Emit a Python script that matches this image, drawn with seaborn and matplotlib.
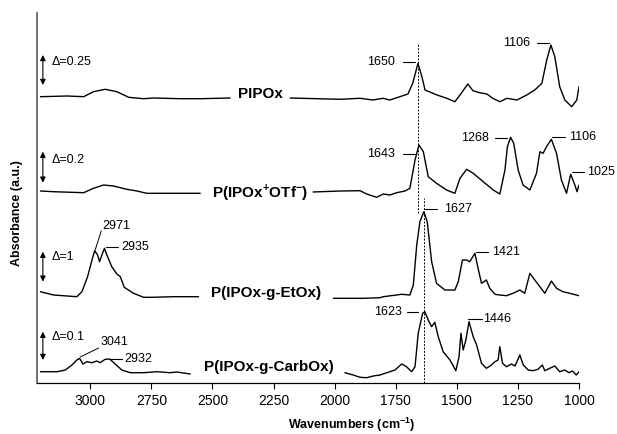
import matplotlib
matplotlib.use('Agg')
import matplotlib.pyplot as plt
import seaborn as sns
import pandas as pd

# FTIR spectra: wavenumber (cm-1) and absorbance (a.u.,
# relative to each trace's own baseline). Each trace is drawn in two pieces.
pipox_hi_wn = [3204, 3095, 3027, 2987, 2939, 2891, 2843, 2782, 2742, 2632, 2550, 2428]
pipox_hi_abs = [1.3, 2, 1.3, 6.3, 8.7, 6.3, 0.7, -0.7, 0, -0.7, -0.7, 0]
pipox_lo_wn = [2182, 1978, 1896, 1843, 1802, 1774, 1733, 1700, 1680, 1659, 1643, 1630,
               1581, 1541, 1508, 1487, 1455, 1434, 1406, 1377, 1353, 1324, 1295, 1254,
               1214, 1181, 1152, 1132, 1115, 1099, 1079, 1058, 1030, 1009, 1000]
pipox_lo_abs = [0, -1.3, -0.3, -2, -0.3, -2, 1.3, 4, 15, 34.7, 21.3, 8,
                3, -0.3, -3.7, 3, 14, 7.3, 5.3, 4, -0.3, -3.7, -0.3, -2,
                3, 8, 14.7, 38, 53, 41.3, 11.3, -2, -8.7, -2, 11.3]

otf_hi_wn = [3204, 3151, 3027, 2987, 2946, 2905, 2850, 2809, 2769, 2659, 2550]
otf_hi_abs = [1, 0.3, -0.7, 3.7, 7, 6, 2.7, 1, -1.3, -1.3, -1.3]
otf_lo_wn = [2088, 1978, 1896, 1869, 1828, 1801, 1774, 1746, 1712, 1692,
             1671, 1655, 1637, 1617, 1583, 1542, 1508, 1487, 1460, 1433,
             1392, 1351, 1324, 1303, 1293, 1280, 1267, 1249, 1229, 1201,
             1174, 1160, 1147, 1133, 1113, 1092, 1072, 1051, 1034, 1017, 1008, 1000]
otf_lo_abs = [0, 1, 1.3, -2, -5.3, -2, -3, -0.7, 1, 3.7,
              32, 47, 40.3, 15.3, 8.7, 2, -1.3, 13.7, 22.7, 18.7,
              10.3, 2, -2, 22, 45.3, 54.7, 48.7, 22, 7, 2,
              18.7, 40.3, 38.7, 45.3, 52.7, 38.7, 12, -1.3, 17.7, 7, 0.3, 7]

etox_hi_wn = [3204, 3150, 3055, 3034, 3011, 2993, 2982, 2970, 2962, 2951, 2942,
              2932, 2912, 2891, 2877, 2861, 2823, 2782, 2748, 2660, 2557]
etox_hi_abs = [4.3, 1, -0.7, 4.3, 19.3, 36, 45.3, 41, 34.3, 42, 47.7,
               41, 29.3, 22, 19.3, 8.7, 2.7, -1.3, -1.3, -0.7, -0.7]
etox_lo_wn = [2005, 1883, 1814, 1801, 1746, 1726, 1692, 1678, 1664, 1651,
              1635, 1621, 1603, 1583, 1549, 1508, 1494, 1477, 1460, 1447,
              1426, 1413, 1399, 1379, 1365, 1344, 1324, 1297, 1270, 1242,
              1222, 1201, 1181, 1160, 1140, 1113, 1092, 1066, 1038, 1000]
etox_lo_abs = [-2.3, -2.3, -1.7, -0.7, 1, 1.7, 1, 11, 51, 74.3,
               84.3, 74.3, 34.3, 12.7, 6, 6, 14.3, 36, 36, 34.3,
               42.7, 27.7, 12.7, 16, 7.7, 1.7, 1, 0.3, 2.7, 6,
               2.7, 22.7, 16, 9.3, 2.7, 15, 7.7, 4.3, 2.7, 0.3]

carb_hi_wn = [3204, 3136, 3102, 3075, 3055, 3044, 3030, 3014, 2993, 2973, 2960,
              2939, 2921, 2898, 2871, 2836, 2782, 2727, 2673, 2646, 2591]
carb_hi_abs = [0.3, 0.3, 2, 7, 12, 13.7, 8, 10.3, 9.3, 11, 9.3,
               12.7, 13, 8, 2, -0.7, -0.7, 0.3, -0.7, 0, -2]
carb_lo_wn = [1958, 1924, 1896, 1869, 1842, 1814, 1794, 1774, 1753, 1726,
              1706, 1685, 1671, 1658, 1640, 1631, 1617, 1603, 1590, 1576,
              1556, 1528, 1504, 1491, 1483, 1474, 1463, 1450, 1433, 1419,
              1399, 1379, 1358, 1344, 1331, 1324, 1313, 1297, 1276, 1262,
              1242, 1228, 1208, 1188, 1168, 1150, 1140, 1120, 1099, 1079,
              1058, 1041, 1027, 1011, 1000]
carb_lo_abs = [-0.7, -3, -5.3, -5.7, -4, -3, -1.3, 0.3, 2, 8,
               5.3, 0.3, 5.3, 38.7, 58.7, 60.3, 52, 45.3, 49.7, 35.3,
               20.3, 12, 1.3, 15.3, 38.7, 22, 32, 50.3, 35.3, 27,
               8.7, 3.7, 7, 10.3, 12, 25.3, 8.7, 5.3, 8, 6,
               17, 7, 2, 1.3, 2.7, 7, 1.3, 3.7, 6, 0.3,
               2, -0.7, 1, -3, 0.3]

trace_names = ['PIPOx', r'P(IPOx$^{\mathbf{+}}$OTf$^{\mathbf{-}}$)',
               'P(IPOx-g-EtOx)', 'P(IPOx-g-CarbOx)']
scale_labels = ['Δ=0.25', 'Δ=0.2', 'Δ=1', 'Δ=0.1']
x_ticks = [3000, 2750, 2500, 2250, 2000, 1750, 1500, 1250, 1000]

segments = [
    (0, pipox_hi_wn, pipox_hi_abs), (0, pipox_lo_wn, pipox_lo_abs),
    (1, otf_hi_wn, otf_hi_abs), (1, otf_lo_wn, otf_lo_abs),
    (2, etox_hi_wn, etox_hi_abs), (2, etox_lo_wn, etox_lo_abs),
    (3, carb_hi_wn, carb_hi_abs), (3, carb_lo_wn, carb_lo_abs),
]

# vertical stacking of the traces (layout)
offsets = [285, 191, 87, 11]

rows = []
for seg_id, (trace, wn, ab) in enumerate(segments):
    for w, a in zip(wn, ab):
        rows.append({'seg': seg_id, 'wn': w, 'y': a + offsets[trace]})
df = pd.DataFrame(rows)

sns.set_style('white')
plt.rcParams['font.family'] = ['Liberation Sans', 'DejaVu Sans']
plt.rcParams['mathtext.fontset'] = 'custom'
plt.rcParams['mathtext.rm'] = 'Liberation Sans'
plt.rcParams['mathtext.bf'] = 'Liberation Sans:bold'
plt.rcParams['text.color'] = 'black'
plt.rcParams['axes.labelcolor'] = 'black'
plt.rcParams['xtick.color'] = 'black'

fig = plt.figure(figsize=(6.17, 4.34), dpi=100)
ax = fig.add_axes([0.05997, 0.11751, 0.87844, 0.85253])

sns.lineplot(data=df, x='wn', y='y', units='seg', estimator=None, sort=False,
             color='black', lw=1.0, ax=ax, legend=False)

ax.set_xlim(3218, 1000)
ax.set_ylim(0, 370)
ax.set_xticks(x_ticks)
ax.set_xticklabels([str(t) for t in x_ticks], fontsize=10, color='black')
ax.set_yticks([])
ax.set_xlabel('')
ax.set_ylabel('')
ax.tick_params(axis='x', direction='out', length=4, width=0.8, color='black', pad=4,
               bottom=True)
for s in ('top', 'right'):
    ax.spines[s].set_visible(False)
ax.spines['bottom'].set_color('black')
ax.spines['bottom'].set_linewidth(0.9)
ax.spines['left'].set_color('#666666')
ax.spines['left'].set_linewidth(1.3)

# dashed guide lines through the C=N band
ax.plot([1659, 1659], [170, 339], ls=(0, (2, 1.5)), color='black', lw=0.7)
ax.plot([1635, 1635], [0, 185], ls=(0, (2, 1.5)), color='black', lw=0.7)

# trace names
name_pos = [(2395, 288.7), (2501, 190.3), (2505, 90), (2534, 16.3)]
for name, (x, y) in zip(trace_names, name_pos):
    ax.text(x, y, name, fontsize=11, fontweight='bold', ha='left', va='center')

# scale bars
bar_pos = [(328, 298, 321), (231.3, 200.3, 223), (131.3, 101.3, 126.3), (51.3, 23, 46.3)]
for lab, (top, bot, ty) in zip(scale_labels, bar_pos):
    ax.annotate('', xy=(3194, bot), xytext=(3194, top),
                arrowprops=dict(arrowstyle='<|-|>', color='black', lw=0.8,
                                mutation_scale=8, shrinkA=0, shrinkB=0))
    ax.text(3157, ty, lab, fontsize=9, ha='left', va='center')

# peak labels with short leader dashes: (text, line x0, line x1, y, text x, ha)
peak_labels = [
    ('1650', 1720, 1671, 321, 1753, 'right'),
    ('1106', 1173, 1124, 340, 1201, 'right'),
    ('1643', 1720, 1671, 229, 1753, 'right'),
    ('1268', 1344, 1295, 245, 1369, 'right'),
    ('1106', 1111, 1058, 246, 1042, 'left'),
    ('1025', 1030, 981, 211, 968, 'left'),
    ('1627', 1630, 1581, 174, 1553, 'left'),
    ('1421', 1422, 1373, 131, 1357, 'left'),
    ('1623', 1704, 1659, 71, 1725, 'right'),
    ('1446', 1455, 1397, 64, 1393, 'left'),
    ('2935', 2935, 2888, 136, 2875, 'left'),
    ('2932', 2918, 2869, 24, 2861, 'left'),
]
for txt, x0, x1, y, tx, ha in peak_labels:
    ax.plot([x0, x1], [y, y], color='black', lw=0.8, clip_on=False)
    ax.text(tx, y, txt, fontsize=9, ha=ha, va='center', clip_on=False)

# labels with slanted leaders
ax.plot([2955, 2980], [152, 133], color='black', lw=0.7)
ax.text(2951, 157, '2971', fontsize=9, ha='left', va='center')
ax.plot([2966, 3041], [35, 26], color='black', lw=0.7)
ax.text(2959, 41, '3041', fontsize=9, ha='left', va='center')

fig.text(17 / 617, 1 - 213 / 434, 'Absorbance (a.u.)', rotation=90, fontsize=9,
         fontweight='bold', ha='center', va='center')
fig.text(352 / 617, 1 - 425 / 434, r'Wavenumbers (cm$^{\mathbf{-1}}$)', fontsize=9,
         fontweight='bold', ha='center', va='center')

fig.savefig('out.png', dpi=100)
